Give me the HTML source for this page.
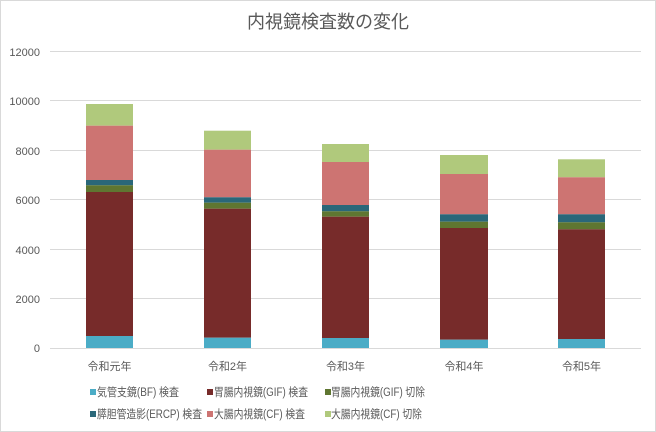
<!DOCTYPE html>
<html><head><meta charset="utf-8"><style>
body{margin:0;background:#fff}
svg{display:block;font-family:"Liberation Sans","Noto Sans CJK JP",sans-serif}
</style></head><body>
<svg width="656" height="432" viewBox="0 0 656 432">
<rect x="0.5" y="0.5" width="655" height="431" fill="#fff" stroke="#d9d9d9"/>
<text x="328" y="28" text-anchor="middle" font-size="18" fill="#595959">内視鏡検査数の変化</text>
<g stroke="#d9d9d9" stroke-width="1">
<line x1="50" x2="641" y1="51.5" y2="51.5"/><line x1="50" x2="641" y1="100.5" y2="100.5"/>
<line x1="50" x2="641" y1="150.5" y2="150.5"/><line x1="50" x2="641" y1="199.5" y2="199.5"/>
<line x1="50" x2="641" y1="249.5" y2="249.5"/><line x1="50" x2="641" y1="298.5" y2="298.5"/>
<line x1="50" x2="641" y1="348.5" y2="348.5"/>
</g>
<g font-size="11" fill="#595959" text-anchor="end">
<text x="40" y="56">12000</text><text x="40" y="105">10000</text><text x="40" y="155">8000</text>
<text x="40" y="204">6000</text><text x="40" y="254">4000</text><text x="40" y="303">2000</text><text x="40" y="352">0</text>
</g>
<g>
<rect x="86" y="104" width="47" height="21.7" fill="#b0c97c"/>
<rect x="86" y="125.7" width="47" height="54.3" fill="#cd7472"/>
<rect x="86" y="180" width="47" height="5.3" fill="#2a6779"/>
<rect x="86" y="185.3" width="47" height="6.7" fill="#5f7631"/>
<rect x="86" y="192" width="47" height="144" fill="#772b2a"/>
<rect x="86" y="336" width="47" height="12" fill="#4bacc6"/>
</g>
<g>
<rect x="204" y="130.7" width="47" height="19" fill="#b0c97c"/>
<rect x="204" y="149.7" width="47" height="47.6" fill="#cd7472"/>
<rect x="204" y="197.3" width="47" height="5.4" fill="#2a6779"/>
<rect x="204" y="202.7" width="47" height="6" fill="#5f7631"/>
<rect x="204" y="208.7" width="47" height="129" fill="#772b2a"/>
<rect x="204" y="337.7" width="47" height="10.3" fill="#4bacc6"/>
</g>
<g>
<rect x="322" y="144" width="47" height="18" fill="#b0c97c"/>
<rect x="322" y="162" width="47" height="43" fill="#cd7472"/>
<rect x="322" y="205" width="47" height="6.3" fill="#2a6779"/>
<rect x="322" y="211.3" width="47" height="5.4" fill="#5f7631"/>
<rect x="322" y="216.7" width="47" height="121.3" fill="#772b2a"/>
<rect x="322" y="338" width="47" height="10" fill="#4bacc6"/>
</g>
<g>
<rect x="440" y="155" width="48" height="19" fill="#b0c97c"/>
<rect x="440" y="174" width="48" height="40.3" fill="#cd7472"/>
<rect x="440" y="214.3" width="48" height="7.4" fill="#2a6779"/>
<rect x="440" y="221.7" width="48" height="6.3" fill="#5f7631"/>
<rect x="440" y="228" width="48" height="111.7" fill="#772b2a"/>
<rect x="440" y="339.7" width="48" height="8.3" fill="#4bacc6"/>
</g>
<g>
<rect x="558" y="159.3" width="47" height="18" fill="#b0c97c"/>
<rect x="558" y="177.3" width="47" height="37" fill="#cd7472"/>
<rect x="558" y="214.3" width="47" height="8" fill="#2a6779"/>
<rect x="558" y="222.3" width="47" height="7" fill="#5f7631"/>
<rect x="558" y="229.3" width="47" height="109.7" fill="#772b2a"/>
<rect x="558" y="339" width="47" height="9" fill="#4bacc6"/>
</g>
<g font-size="11" fill="#595959" text-anchor="middle">
<text x="109.5" y="370">令和元年</text><text x="227.5" y="370">令和2年</text><text x="345.5" y="370">令和3年</text>
<text x="464" y="370">令和4年</text><text x="581.5" y="370">令和5年</text>
</g>
<g font-size="11.5" fill="#595959">
<rect x="90" y="389" width="6" height="6" fill="#4bacc6"/><text x="97" y="396" textLength="82" lengthAdjust="spacingAndGlyphs">気管支鏡(BF) 検査</text>
<rect x="207" y="389" width="6" height="6" fill="#772b2a"/><text x="214" y="396" textLength="94" lengthAdjust="spacingAndGlyphs">胃腸内視鏡(GIF) 検査</text>
<rect x="325" y="389" width="6" height="6" fill="#5f7631"/><text x="331" y="396" textLength="94" lengthAdjust="spacingAndGlyphs">胃腸内視鏡(GIF) 切除</text>
<rect x="90" y="411" width="6" height="6" fill="#2a6779"/><text x="97" y="418" textLength="105" lengthAdjust="spacingAndGlyphs">膵胆管造影(ERCP) 検査</text>
<rect x="207" y="411" width="6" height="6" fill="#cd7472"/><text x="214" y="418" textLength="91" lengthAdjust="spacingAndGlyphs">大腸内視鏡(CF) 検査</text>
<rect x="325" y="411" width="6" height="6" fill="#b0c97c"/><text x="331" y="418" textLength="91" lengthAdjust="spacingAndGlyphs">大腸内視鏡(CF) 切除</text>
</g>
</svg>
</body></html>
